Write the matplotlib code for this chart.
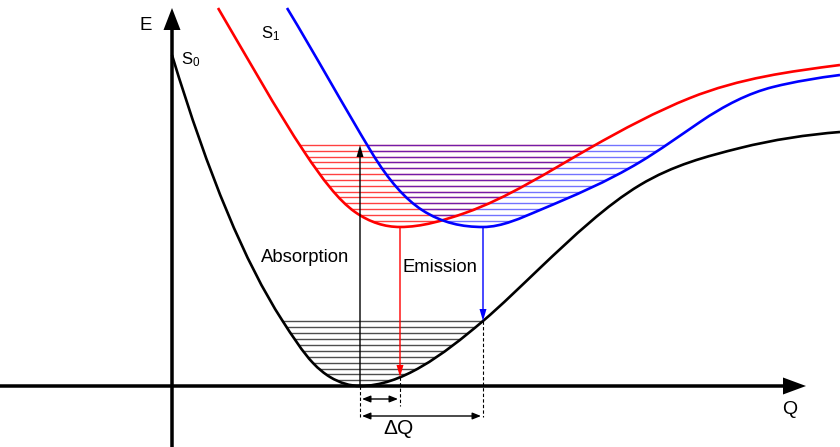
import numpy as np
import matplotlib
matplotlib.use("Agg")
import matplotlib.pyplot as plt
from matplotlib.path import Path
from matplotlib.patches import PathPatch

plt.rcParams['font.family'] = ['Liberation Sans', 'DejaVu Sans']
plt.rcParams['mathtext.fontset'] = 'custom'
plt.rcParams['mathtext.rm'] = 'Liberation Sans'

# potential curves: nodes (Q, E) and the slope dE/dQ at each node
s0_q = [0, 110, 141, 158, 188, 311, 368, 468, 568, 668]
s0_e = [331, 66, 23, 9, 0, 65, 118, 201, 238, 254]
s0_slope = [-3.3, -1.55, -1.05, -0.6, 0, 0.85, 0.95, 0.6, 0.25, 0.08]

red_q = [46, 133, 183, 228, 293, 418, 518, 668]
red_e = [378, 233, 174, 159, 173, 238, 288, 321]
red_slope = [-1.7, -1.5, -0.7, 0, 0.35, 0.57, 0.4, 0.13]

blue_q = [115, 200, 250, 311, 368, 468, 528, 601, 668]
blue_e = [378, 233, 176, 159, 176, 224, 264, 299, 311]
blue_slope = [-1.65, -1.65, -0.65, 0, 0.42, 0.6, 0.68, 0.25, 0.13]

# vibrational levels
s0_levels = [65, 59, 53, 47, 41, 35.5, 29.5, 23.5, 17.5, 12, 6]
s1_levels = [241, 235, 229, 224, 218, 212, 206, 200, 194, 189, 183, 177, 171, 165]

# transitions
q_abs, e_abs = 188, 241
q_red, e_red_top, e_red_bot = 228, 159, 9
q_blue, e_blue_top, e_blue_bot = 311, 159, 65


def curve_path(q, e, slope, closed_top=None):
    # cubic Hermite segments between nodes, as Bezier curves
    verts = [(q[0], e[0])]
    codes = [Path.MOVETO]
    for i in range(len(q) - 1):
        h = (q[i + 1] - q[i]) / 3
        verts += [(q[i] + h, e[i] + slope[i] * h),
                  (q[i + 1] - h, e[i + 1] - slope[i + 1] * h),
                  (q[i + 1], e[i + 1])]
        codes += [Path.CURVE4] * 3
    if closed_top is not None:
        verts += [(q[-1], closed_top), (q[0], closed_top), (q[0], e[0])]
        codes += [Path.LINETO, Path.LINETO, Path.CLOSEPOLY]
    return Path(verts, codes)


fig = plt.figure(figsize=(8.4, 4.47), dpi=100)
ax = fig.add_axes([0, 0, 1, 1])
ax.set_xlim(-172, 668)
ax.set_ylim(-61, 386)
ax.axis('off')

curves = [(s0_q, s0_e, s0_slope, s0_levels, 'black', '#222222', 0.8),
          (red_q, red_e, red_slope, s1_levels, 'red', 'red', 0.75),
          (blue_q, blue_e, blue_slope, s1_levels, 'blue', 'blue', 0.55)]

# levels clipped to the inside of each well
for q, e, s, levels, _, lcol, alpha in curves:
    well = PathPatch(curve_path(q, e, s, closed_top=1000), transform=ax.transData)
    lc = ax.hlines(levels, -172, 668, colors=lcol, lw=1.0, alpha=alpha, zorder=2)
    lc.set_clip_path(well)

for q, e, s, _, col, _, _ in curves:
    ax.add_patch(PathPatch(curve_path(q, e, s), fc='none', ec=col, lw=1.9, zorder=3))

# axes
ax.arrow(-172, 0, 806, 0, width=3.5, head_width=17, head_length=23,
         length_includes_head=True, color='k', lw=0, zorder=4)
ax.arrow(0, -61, 0, 439, width=3.5, head_width=17, head_length=22,
         length_includes_head=True, color='k', lw=0, zorder=4)

# transitions
ax.arrow(q_abs, 0, 0, e_abs, width=1.4, head_width=7, head_length=12,
         length_includes_head=True, color='k', lw=0, zorder=5)
ax.arrow(q_red, e_red_top, 0, e_red_bot - e_red_top, width=1.4, head_width=7,
         head_length=12, length_includes_head=True, color='red', lw=0, zorder=5)
ax.arrow(q_blue, e_blue_top, 0, e_blue_bot - e_blue_top, width=1.4, head_width=7,
         head_length=12, length_includes_head=True, color='blue', lw=0, zorder=5)

# displacement markers
for q, top, bot in [(q_abs, 0, -31), (q_red, e_red_bot, -20), (q_blue, e_blue_bot, -31)]:
    ax.plot([q, q], [top, bot], color='k', lw=0.8, ls=(0, (3, 2)), zorder=4)
for q, e in [(q_red, -13), (q_blue, -30)]:
    ax.annotate('', xy=(q - 2, e), xytext=(q_abs + 2, e),
                arrowprops=dict(arrowstyle='<|-|>,head_length=0.5,head_width=0.2',
                                lw=1.0, color='k', shrinkA=0, shrinkB=0,
                                mutation_scale=10))

ax.text(-26, 361, 'E', fontsize=13.5, ha='center', va='center')
ax.text(618, -24, 'Q', fontsize=14, ha='center', va='center')
ax.text(9, 326, r'$\mathregular{S_0}$', fontsize=12, ha='left', va='center')
ax.text(89, 352, r'$\mathregular{S_1}$', fontsize=12, ha='left', va='center')
ax.text(133, 128, 'Absorption', fontsize=13.3, ha='center', va='center')
ax.text(268, 118, 'Emission', fontsize=13.3, ha='center', va='center')
ax.text(226, -42, 'ΔQ', fontsize=15, ha='center', va='center')

fig.savefig('out.png', dpi=100)
